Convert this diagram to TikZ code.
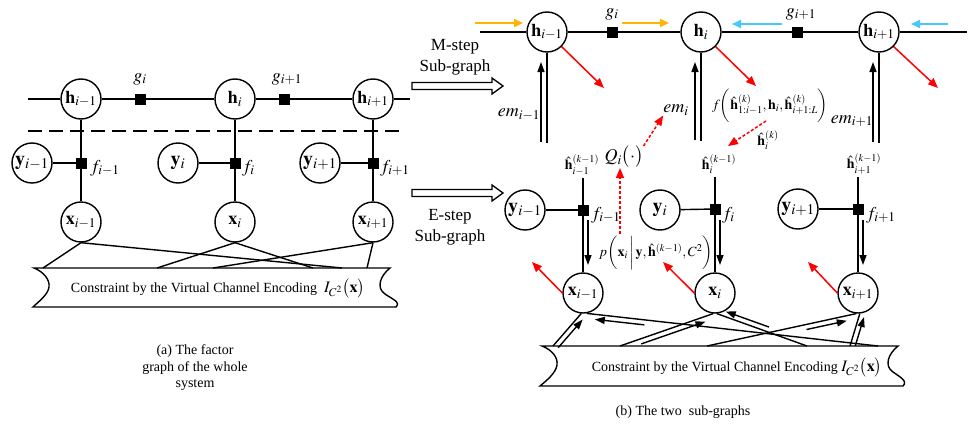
\documentclass[tikz,border=0pt]{standalone}
\usepackage{mathptmx}
\usepackage{fontspec}
\setmainfont{Liberation Serif}
\usetikzlibrary{arrows.meta,calc}
\definecolor{myorange}{RGB}{255,180,0}
\definecolor{mycyan}{RGB}{70,200,250}
\newcommand\pararrow[5]{%
  \coordinate (pa1) at (#1);
  \coordinate (pa2) at ($(pa1)!#3!(#2)$);
  \coordinate (pa3) at ($(pa1)!#4!(#2)$);
  \draw[arrb] ($(pa3)!#5!90:(pa1)$) -- ($(pa2)!#5!-90:(pa3)$);
}
\newcommand\hollowarrow[2]{% left end x, y
  \draw[line width=1.3pt,fill=white] (#1,#2-3.5) -- (#1+80,#2-3.5) -- (#1+80,#2-8) -- (#1+91,#2) -- (#1+80,#2+8) -- (#1+80,#2+3.5) -- (#1,#2+3.5) -- cycle;
}
\begin{document}
\begin{tikzpicture}[x=1pt,y=-1pt,
  font=\fontsize{14}{16.5}\selectfont,
  var/.style={circle,draw,line width=1.4pt,minimum size=40pt,inner sep=0pt,fill=white,font=\fontsize{18}{18}\selectfont},
  fac/.style={rectangle,draw,fill=black,minimum size=10pt,inner sep=0pt},
  mlab/.style={inner sep=0pt,font=\fontsize{18}{20}\selectfont},
  slab/.style={inner sep=0pt,font=\fontsize{14}{16}\selectfont},
  edge/.style={line width=1.4pt},
  arrb/.style={line width=1.4pt,-{Triangle[length=10pt,width=7pt]}},
  redarr/.style={line width=1.5pt,red,-{Triangle[length=10pt,width=8pt]}},
  reddash/.style={line width=1.5pt,red,dash pattern=on 3pt off 2pt,-{Triangle[length=10pt,width=8pt]}},
  orarr/.style={line width=2pt,myorange,-{Triangle[length=9pt,width=8pt]}},
  cyarr/.style={line width=2pt,mycyan,-{Triangle[length=9pt,width=8pt]}}
]
\useasboundingbox (0,0) rectangle (969,423);

% ================= LEFT PANEL =================
\coordinate (lL) at (28,99); \coordinate (lR) at (410,99);
\node[var] (hL1) at (81,99) {$\mathbf{h}_{i-1}$};
\node[var] (hL2) at (235,99) {$\mathbf{h}_{i}$};
\node[var] (hL3) at (373,99) {$\mathbf{h}_{i+1}$};
\node[fac] (gL1) at (140,99) {};
\node[fac] (gL2) at (284,99) {};
\node[mlab] (gL1t) at (140,79) {$g_i$};
\node[mlab] (gL2t) at (287,79) {$g_{i+1}$};
\draw[edge] (lL) -- (hL1) -- (gL1) -- (hL2) -- (gL2) -- (hL3) -- (lR);

\coordinate (dL) at (28,131); \coordinate (dR) at (405,131);
\draw[line width=1.8pt,dash pattern=on 14pt off 7pt] (dL) -- (dR);

\node[var,font=\fontsize{20}{20}\selectfont] (yL1) at (32,163) {$\mathbf{y}_{i-1}$};
\node[var,font=\fontsize{20}{20}\selectfont] (yL2) at (178,163) {$\mathbf{y}_{i}$};
\node[var,font=\fontsize{20}{20}\selectfont] (yL3) at (320,163) {$\mathbf{y}_{i+1}$};
\node[fac] (fL1) at (81,163) {};
\node[fac] (fL2) at (235,163) {};
\node[fac] (fL3) at (373,163) {};
\node[mlab,anchor=west] (fL1t) at (90,168) {$f_{i-1}$};
\node[mlab,anchor=west] (fL2t) at (242,168) {$f_{i}$};
\node[mlab,anchor=west] (fL3t) at (380,168) {$f_{i+1}$};
\node[var] (xL1) at (81,222) {$\mathbf{x}_{i-1}$};
\node[var] (xL2) at (235,222) {$\mathbf{x}_{i}$};
\node[var] (xL3) at (373,222) {$\mathbf{x}_{i+1}$};
\draw[edge] (hL1) -- (fL1) -- (xL1);
\draw[edge] (hL2) -- (fL2) -- (xL2);
\draw[edge] (hL3) -- (fL3) -- (xL3);
\draw[edge] (yL1) -- (fL1);
\draw[edge] (yL2) -- (fL2);
\draw[edge] (yL3) -- (fL3);

% constraint box (left)
\draw[edge] (34,268) -- (390,268)
  .. controls (380,276) and (376,288) .. (385,294)
  .. controls (392,299) and (401,302) .. (396,307)
  -- (33,307)
  .. controls (38,302) and (48,295) .. (49,287)
  .. controls (50,280) and (44,272) .. (34,268) -- cycle;
\node (cL) at (218,288) {Constraint by the Virtual Channel Encoding\ \ {\fontsize{16}{16}\selectfont$I_{C^2}\bigl(\mathbf{x}\bigr)$}};
\coordinate (bL1) at (43,268); \coordinate (bL2) at (342,268);
\coordinate (bL3) at (157,268); \coordinate (bL4) at (313,268);
\coordinate (bL5) at (213,268); \coordinate (bL6) at (367,268);
\draw[edge] (xL1.south) -- (bL1);
\draw[edge] (xL1.south) -- (bL2);
\draw[edge] (xL2.south) -- (bL3);
\draw[edge] (xL2.south) -- (bL4);
\draw[edge] (xL3.south) -- (bL5);
\draw[edge] (xL3.south) -- (bL6);

\node[align=center] (capA) at (195,368) {(a) The factor\\graph of the whole\\system};

% ================= MIDDLE ARROWS =================
\node[align=center,font=\fontsize{17}{21}\selectfont] (Mt) at (455,57) {M-step\\Sub-graph};
\hollowarrow{412}{86}
\node[align=center,font=\fontsize{17}{21}\selectfont] (Et) at (450,227) {E-step\\Sub-graph};
\hollowarrow{412}{193}

% ================= RIGHT PANEL: M-step =================
\coordinate (rL) at (480,32); \coordinate (rR) at (967,32);
\node[var] (hR1) at (547,32) {$\mathbf{h}_{i-1}$};
\node[var] (hR2) at (701,32) {$\mathbf{h}_{i}$};
\node[var] (hR3) at (879,32) {$\mathbf{h}_{i+1}$};
\node[fac] (gR1) at (612,32) {};
\node[fac] (gR2) at (797,32) {};
\node[mlab] (gR1t) at (612,14) {$g_i$};
\node[mlab] (gR2t) at (801,14) {$g_{i+1}$};
\draw[edge] (rL) -- (hR1) -- (gR1) -- (hR2) -- (gR2) -- (hR3) -- (rR);

\coordinate (o1a) at (475,23); \coordinate (o1b) at (523,23);
\coordinate (o2a) at (622,23); \coordinate (o2b) at (669,23);
\coordinate (c1a) at (782,24); \coordinate (c1b) at (732,24);
\coordinate (c2a) at (948,24); \coordinate (c2b) at (911,24);
\draw[orarr] (o1a) -- (o1b);
\draw[orarr] (o2a) -- (o2b);
\draw[cyarr] (c1a) -- (c1b);
\draw[cyarr] (c2a) -- (c2b);

\coordinate (rh1) at (604,88); \coordinate (rh2) at (756,86); \coordinate (rh3) at (938,88);
\draw[redarr] (hR1.-45) -- (rh1);
\draw[redarr] (hR2.-45) -- (rh2);
\draw[redarr] (hR3.-45) -- (rh3);

% em double lines
\draw[edge] (hR1.south) -- ++(0,90);
\draw[arrb] ($(hR1)+(-6,110)$) -- ($(hR1)+(-6,30)$);
\draw[edge] (hR2.south) -- ++(0,88);
\draw[arrb] ($(hR2)+(-6,108)$) -- ($(hR2)+(-6,30)$);
\draw[edge] (hR3.south) -- ++(0,90);
\draw[arrb] ($(hR3)+(-6,110)$) -- ($(hR3)+(-6,30)$);
\node[mlab] (em1) at (519,115) {$em_{i-1}$};
\node[mlab] (em2) at (676,110) {$em_{i}$};
\node[mlab] (em3) at (852,121) {$em_{i+1}$};

\node[slab] (fn) at (770,106) {$f\biggl(\hat{\mathbf{h}}^{(k)}_{1:i-1},\mathbf{h}_i,\hat{\mathbf{h}}^{(k)}_{i+1:L}\biggr)$};
\node[slab] (hk) at (768,140) {$\hat{\mathbf{h}}^{(k)}_{i}$};
\node[mlab] (Q) at (624,157) {$Q_i\bigl(\cdot\bigr)$};
\node[slab] (pp) at (656,253) {$p\biggl(\mathbf{x}_i\,\bigg|\,\mathbf{y},\hat{\mathbf{h}}^{(k-1)},C^2\biggr)$};

% ================= RIGHT PANEL: E-step =================
\node[var,font=\fontsize{20}{20}\selectfont] (yR1) at (525,210) {$\mathbf{y}_{i-1}$};
\node[var,font=\fontsize{20}{20}\selectfont] (yR2) at (660,210) {$\mathbf{y}_{i}$};
\node[var,font=\fontsize{20}{20}\selectfont] (yR3) at (798,209) {$\mathbf{y}_{i+1}$};
\node[fac] (fR1) at (583,210) {};
\node[fac] (fR2) at (715,209) {};
\node[fac] (fR3) at (858,209) {};
\node[mlab,anchor=west] (fR1t) at (591,215) {$f_{i-1}$};
\node[mlab,anchor=west] (fR2t) at (722,215) {$f_{i}$};
\node[mlab,anchor=west] (fR3t) at (866,215) {$f_{i+1}$};
\coordinate (tR1) at (583,178); \coordinate (tR2) at (715,177); \coordinate (tR3) at (858,177);
\node[slab] (hh1) at (582,165) {$\hat{\mathbf{h}}^{(k-1)}_{i-1}$};
\node[slab] (hh2) at (719,164) {$\hat{\mathbf{h}}^{(k-1)}_{i}$};
\node[slab] (hh3) at (864,164) {$\hat{\mathbf{h}}^{(k-1)}_{i+1}$};
\node[var] (xR1) at (583,293) {$\mathbf{x}_{i-1}$};
\node[var] (xR2) at (715,293) {$\mathbf{x}_{i}$};
\node[var] (xR3) at (858,293) {$\mathbf{x}_{i+1}$};
\draw[edge] (tR1) -- (fR1) -- (xR1);
\draw[edge] (tR2) -- (fR2) -- (xR2);
\draw[edge] (tR3) -- (fR3) -- (xR3);
\draw[edge] (yR1) -- (fR1);
\draw[edge] (yR2) -- (fR2);
\draw[edge] (yR3) -- (fR3);
\draw[arrb] ($(fR1)+(5,10)$) -- ($(xR1)+(5,-28)$);
\draw[arrb] ($(fR2)+(5,11)$) -- ($(xR2)+(5,-28)$);
\draw[arrb] ($(fR3)+(5,11)$) -- ($(xR3)+(5,-28)$);

% red dashed message arrows
\coordinate (pq) at (620,234);
\coordinate (hkt) at (728,146);
\draw[reddash] (Q.north east) -- (em2.south west);
\draw[reddash] ($(fn.south)+(-4,-2)$) -- (hkt);
\draw[reddash] (pq) -- (Q.south -| pq);

\coordinate (rx1) at (532,262); \coordinate (rx2) at (663,262); \coordinate (rx3) at (808,262);
\draw[redarr] (xR1.west) -- (rx1);
\draw[redarr] (xR2.west) -- (rx2);
\draw[redarr] (xR3.west) -- (rx3);

% constraint box (right)
\draw[edge] (542,346) -- (898,346)
  .. controls (888,354) and (884,366) .. (893,372)
  .. controls (900,377) and (908,381) .. (903,386)
  -- (540,386)
  .. controls (546,381) and (556,373) .. (557,365)
  .. controls (558,357) and (552,350) .. (542,346) -- cycle;
\node (cR) at (737,367) {Constraint by the Virtual Channel Encoding {\fontsize{16}{16}\selectfont$I_{C^2}\bigl(\mathbf{x}\bigr)$}};
\coordinate (bR1) at (553,346); \coordinate (bR2) at (878,346);
\coordinate (bR3) at (620,346); \coordinate (bR4) at (807,346);
\coordinate (bR5) at (707,346); \coordinate (bR6) at (850,346);
\draw[edge] (xR1.-95) -- (bR1);
\draw[edge] (xR1.-80) -- (bR2);
\draw[edge] (xR2.-95) -- (bR3);
\draw[edge] (xR2.-85) -- (bR4);
\draw[edge] (xR3.-95) -- (bR5);
\draw[edge] (xR3.-85) -- (bR6);
\pararrow{xR1.-95}{bR1}{0.08}{0.95}{-5pt}
\pararrow{xR1.-80}{bR2}{0.03}{0.2}{5pt}
\pararrow{xR2.-95}{bR3}{0.1}{0.79}{-5pt}
\pararrow{xR2.-85}{bR4}{0.08}{0.56}{-5pt}
\pararrow{xR3.-95}{bR5}{0.07}{0.34}{-5pt}
\pararrow{xR3.-85}{bR6}{0.06}{0.95}{-5pt}

\node (capB) at (683,412) {(b) The two\ \ sub-graphs};
\end{tikzpicture}
\end{document}
